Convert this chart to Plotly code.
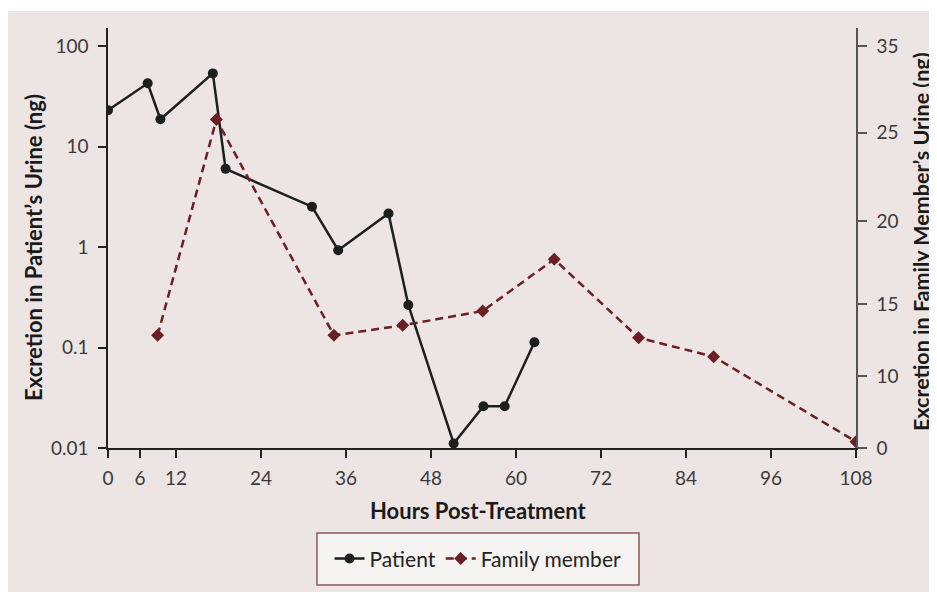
import plotly.graph_objects as go

# ---- data ----
patient_hours = [2.4, 8.0, 9.8, 17.2, 19.0, 31.2, 34.9, 42.0, 44.8, 51.2, 55.4, 58.4, 62.6]
patient_ng = [23.0, 42.6, 18.7, 53.5, 6.0, 2.52, 0.93, 2.16, 0.265, 0.0111, 0.026, 0.026, 0.113]

family_hours = [9.4, 17.7, 34.3, 44.0, 55.3, 65.4, 77.3, 87.9, 108.0]
family_ng = [9.81, 28.6, 9.81, 10.68, 11.93, 16.43, 9.60, 7.95, 0.55]

x_tickvals = [2.4, 6.92, 12, 24, 36, 48, 60, 72, 84, 96, 108]
x_ticktext = ["0", "6", "12", "24", "36", "48", "60", "72", "84", "96", "108"]
left_tickvals = [0.01, 0.1, 1, 10, 100]
left_ticktext = ["0.01", "0.1", "1", "10", "100"]
right_tickvals = [0, 6.27, 12.54, 19.76, 27.45, 35]
right_ticktext = ["0", "10", "15", "20", "25", "35"]

x_title = "Hours Post-Treatment"
left_title = "Excretion in Patient’s Urine (ng)"
right_title = "Excretion in Family Member’s Urine (ng)"

BG = "#EDE5E4"
FAM = "#6B1F25"
FONT = "Lato"

fig = go.Figure()
fig.add_trace(go.Scatter(
    x=patient_hours, y=patient_ng, name="Patient", mode="lines+markers",
    line=dict(color="#1E1E1E", width=2.5),
    marker=dict(symbol="circle", size=10, color="#1E1E1E"),
    yaxis="y",
))
fig.add_trace(go.Scatter(
    x=family_hours, y=family_ng, name="Family member", mode="lines+markers",
    line=dict(color=FAM, width=2.5, dash="8px,5px"),
    marker=dict(symbol="diamond", size=10, color=FAM),
    yaxis="y2",
))

tickfont = dict(family=FONT, size=19, color="#3A3A3A")
titlefont = dict(family=FONT, size=22, color="#1A1A1A", weight="bold")

# page body adds an 8px offset, so the figure is 8px smaller than the window
fig.update_layout(
    template="none",
    width=929, height=584,
    margin=dict(l=100, r=81, t=20, b=144, autoexpand=False),
    paper_bgcolor=BG, plot_bgcolor=BG,
    showlegend=True,
    legend=dict(
        orientation="h", x=0.4947, xanchor="center", y=-0.264, yanchor="middle",
        bgcolor="rgba(0,0,0,0)", borderwidth=0,
        font=dict(family=FONT, size=21, color="#222222"),
        itemwidth=30, tracegroupgap=0, entrywidth=0,
    ),
    xaxis=dict(
        range=[2.4, 108], tickvals=x_tickvals, ticktext=x_ticktext,
        showgrid=False, zeroline=False, showline=True, linecolor="#222222", linewidth=1.5,
        ticks="outside", ticklen=8, tickwidth=1.5, tickcolor="#222222",
        tickfont=tickfont, ticklabelstandoff=4, automargin=False,
    ),
    yaxis=dict(
        type="log", range=[-2, 2.18], tickvals=left_tickvals, ticktext=left_ticktext,
        showgrid=False, zeroline=False, showline=True, linecolor="#222222", linewidth=1.5,
        ticks="outside", ticklen=8, tickwidth=1.5, tickcolor="#222222",
        tickfont=tickfont, ticklabelstandoff=6, automargin=False,
    ),
    yaxis2=dict(
        overlaying="y", side="right", range=[0, 36.57],
        tickvals=right_tickvals, ticktext=right_ticktext,
        showgrid=False, zeroline=False, showline=True, linecolor="#555555", linewidth=1.5,
        ticks="outside", ticklen=9, tickwidth=1.5, tickcolor="#555555",
        tickfont=tickfont, ticklabelstandoff=6, automargin=False,
    ),
    annotations=[
        dict(text=x_title, xref="paper", yref="paper", x=0.4947, y=0,
             xanchor="center", yanchor="middle", yshift=-62, showarrow=False, font=titlefont),
        dict(text=left_title, xref="paper", yref="paper", x=0, y=0.5,
             xanchor="center", yanchor="middle", xshift=-75, yshift=-10, textangle=-90,
             showarrow=False, font=titlefont),
        dict(text=right_title, xref="paper", yref="paper", x=1, y=0.5,
             xanchor="center", yanchor="middle", xshift=65, yshift=-4, textangle=-90,
             showarrow=False, font=dict(family=FONT, size=21.5, color="#1A1A1A", weight="bold")),
    ],
    shapes=[
        dict(type="rect", xref="paper", yref="paper", x0=-0.3, x1=1.3,
             y0=1.0 + 17 / 420, y1=1.2, fillcolor="white", line_width=0, layer="below"),
        # legend frame
        dict(type="rect", xref="paper", yref="paper", x0=0.2794, x1=0.7099,
             y0=-0.3262, y1=-0.2024, fillcolor="#F5F4F2",
             line=dict(color="#8A5A5E", width=1.5), layer="below"),
    ],
)

fig.write_html("out.html")
